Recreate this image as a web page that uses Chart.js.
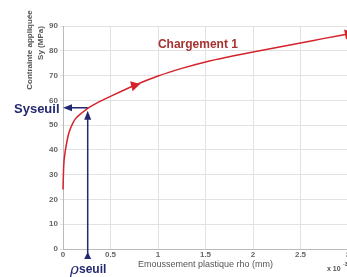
<!DOCTYPE html>
<html>
<head>
<meta charset="utf-8">
<script src="https://cdn.jsdelivr.net/npm/chart.js@4/dist/chart.umd.min.js"></script>
<style>
  html, body { margin: 0; padding: 0; background: #fff; overflow: hidden; }
  #wrap { width: 347px; height: 277px; overflow: hidden; }
</style>
</head>
<body>
<div id="wrap"><canvas id="chart" width="354" height="277"></canvas></div>
<script>
// rho, in units of 1e-3 mm
const rhoValues = [0, 0.005, 0.01, 0.02, 0.03, 0.05, 0.07, 0.1, 0.13, 0.2, 0.26, 0.35, 0.5, 0.75, 1.0, 1.25, 1.5, 1.75, 2.0, 2.25, 2.5, 2.75, 3.0];
// applied stress Sy (MPa)
const syValues = [24, 31, 35, 38.5, 41, 45, 47.8, 50.5, 52.5, 55, 56.8, 58.8, 61.6, 66, 69.8, 72.9, 75.5, 77.6, 79.5, 81.3, 83.1, 85, 86.8];
const arrowIdx = [13, 22];
const arrowRot = [76, 79];

const rhoSeuil = 0.26;
const sySeuil = 57;
const seriesLabel = 'Chargement 1';
const labelPos = [1.42, 82.3];

const xTicks = [0, 0.5, 1, 1.5, 2, 2.5, 3];
const yTicks = [0, 10, 20, 30, 40, 50, 60, 70, 80, 90];
const yTitle = ['Contrainte appliquée', 'Sy (MPa)'];

const red = '#d4232b';
const navy = '#232870';
const sans = '"Liberation Sans", Arial, sans-serif';
const tickFont = { family: sans, size: 8, weight: 'bold' };

const points = rhoValues.map((x, i) => ({ x: x, y: syValues[i] }));

function arrowHead(ctx, x, y, angle, len, half) {
    ctx.save();
    ctx.translate(x, y);
    ctx.rotate(angle);
    ctx.beginPath();
    ctx.moveTo(0, 0);
    ctx.lineTo(-len, -half);
    ctx.lineTo(-len, half);
    ctx.closePath();
    ctx.fill();
    ctx.restore();
}

const annotations = {
    id: 'annotations',
    afterDatasetsDraw(chart) {
        const ctx = chart.ctx;
        const xs = chart.scales.x;
        const ys = chart.scales.y;
        const area = chart.chartArea;
        const px = xs.getPixelForValue(rhoSeuil);
        const py = ys.getPixelForValue(sySeuil);

        ctx.save();
        ctx.strokeStyle = navy;
        ctx.fillStyle = navy;
        ctx.lineWidth = 1.5;

        // horizontal arrow towards the y axis
        const hx = area.left;
        ctx.beginPath();
        ctx.moveTo(px, py);
        ctx.lineTo(hx + 6, py);
        ctx.stroke();
        arrowHead(ctx, hx, py, Math.PI, 9, 3.5);

        // vertical arrow from below the x axis to the curve
        const vb = area.bottom + 3;
        ctx.beginPath();
        ctx.moveTo(px, vb + 6);
        ctx.lineTo(px, py + 8);
        ctx.stroke();
        arrowHead(ctx, px, py + 3, -Math.PI / 2, 9, 3.5);
        arrowHead(ctx, px, vb, -Math.PI / 2, 7, 3.5);

        // labels
        ctx.textBaseline = 'middle';
        ctx.textAlign = 'left';
        ctx.font = 'bold 13px ' + sans;
        ctx.fillText('Syseuil', 14, py + 2);

        ctx.font = 'italic 15px "DejaVu Serif", serif';
        ctx.fillText('\u03C1', 70, area.bottom + 21);
        ctx.font = 'bold 12px ' + sans;
        ctx.fillText('seuil', 79, area.bottom + 21);

        ctx.fillStyle = '#a83232';
        ctx.textAlign = 'center';
        ctx.font = 'bold 12px ' + sans;
        ctx.fillText(seriesLabel, xs.getPixelForValue(labelPos[0]), ys.getPixelForValue(labelPos[1]));

        // y axis title, two rotated lines
        ctx.fillStyle = '#555';
        ctx.font = 'bold 8px ' + sans;
        ctx.save();
        ctx.translate(30, 50);
        ctx.rotate(-Math.PI / 2);
        ctx.fillText(yTitle[0], 0, 0);
        ctx.restore();
        ctx.save();
        ctx.translate(41, 43);
        ctx.rotate(-Math.PI / 2);
        ctx.fillText(yTitle[1], 0, 0);
        ctx.restore();

        ctx.textAlign = 'left';
        ctx.font = 'bold 7px ' + sans;
        ctx.fillText('x 10', 327, area.bottom + 20);
        ctx.font = 'bold 5px ' + sans;
        ctx.fillText('-3', 343, area.bottom + 16);
        ctx.restore();
    }
};

new Chart(document.getElementById('chart'), {
    type: 'line',
    data: {
        datasets: [{
            label: seriesLabel,
            data: points,
            borderColor: red,
            backgroundColor: red,
            borderWidth: 1.5,
            cubicInterpolationMode: 'monotone',
            pointStyle: 'triangle',
            pointRadius: c => arrowIdx.includes(c.dataIndex) ? 4.5 : 0,
            pointRotation: c => {
                const k = arrowIdx.indexOf(c.dataIndex);
                return k >= 0 ? arrowRot[k] : 0;
            },
            clip: false
        }]
    },
    options: {
        responsive: false,
        animation: false,
        devicePixelRatio: 1,
        layout: { padding: { top: 26, right: 0, bottom: 0, left: 0 } },
        plugins: { legend: { display: false }, tooltip: { enabled: false } },
        scales: {
            x: {
                type: 'linear',
                min: 0,
                max: 3,
                afterBuildTicks: s => { s.ticks = xTicks.map(v => ({ value: v })); },
                afterFit: s => { s.height = 28; },
                ticks: { color: '#666', font: tickFont, padding: 0, callback: v => String(v) },
                grid: { color: '#e2e2e2', tickLength: 1 },
                border: { color: '#bbb' },
                title: {
                    display: true,
                    text: 'Emoussement plastique rho (mm)',
                    color: '#555',
                    font: { family: sans, size: 9 },
                    padding: { top: 0, bottom: 7 }
                }
            },
            y: {
                min: 0,
                max: 90,
                afterBuildTicks: s => { s.ticks = yTicks.map(v => ({ value: v })); },
                afterFit: s => { s.width = 63; },
                ticks: { color: '#666', font: tickFont, padding: 2 },
                grid: { color: '#e2e2e2', tickLength: 3 },
                border: { color: '#bbb' }
            }
        }
    },
    plugins: [annotations]
});
</script>
</body>
</html>
